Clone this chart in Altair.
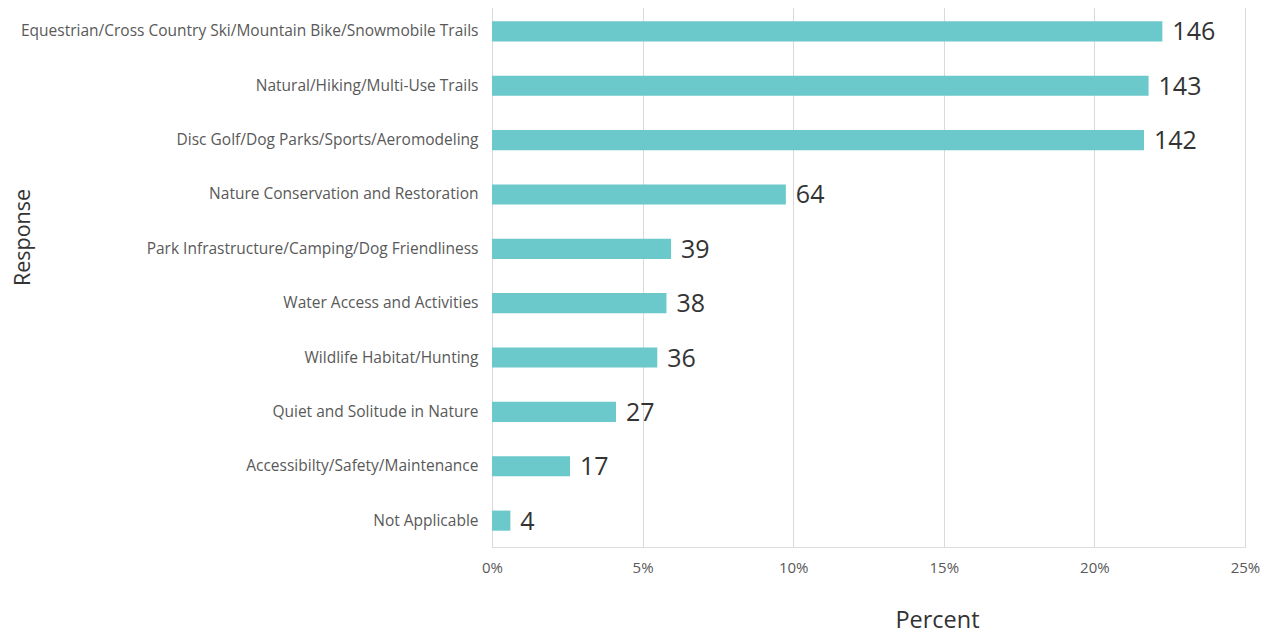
import altair as alt
import pandas as pd

categories = [
    "Equestrian/Cross Country Ski/Mountain Bike/Snowmobile Trails",
    "Natural/Hiking/Multi-Use Trails",
    "Disc Golf/Dog Parks/Sports/Aeromodeling",
    "Nature Conservation and Restoration",
    "Park Infrastructure/Camping/Dog  Friendliness",
    "Water Access and Activities",
    "Wildlife Habitat/Hunting",
    "Quiet and Solitude in Nature",
    "Accessibilty/Safety/Maintenance",
    "Not Applicable",
]
counts = [146, 143, 142, 64, 39, 38, 36, 27, 17, 4]
x_ticks = [0, 0.05, 0.10, 0.15, 0.20, 0.25]

total = sum(counts)
df = pd.DataFrame({
    "Response": categories,
    "Count": counts,
    "Percent": [c / total for c in counts],
})

FONT = "Open Sans"

y_enc = alt.Y(
    "Response:N",
    sort=categories,
    scale=alt.Scale(paddingInner=0.63, paddingOuter=0.3),
    axis=alt.Axis(
        title="Response",
        titleFont=FONT,
        titleFontSize=21.5,
        titleFontWeight="normal",
        titleColor="#333333",
        titleX=-469,
        titleY=232,
        titleAngle=270,
        titleAlign="center",
        titleBaseline="middle",
        labelFont=FONT,
        labelFontSize=15.5,
        labelColor="#595959",
        labelPadding=14,
        labelLimit=600,
        ticks=False,
        domain=False,
        grid=False,
    ),
)

x_enc = alt.X(
    "Percent:Q",
    scale=alt.Scale(domain=[0, 0.25], nice=False),
    axis=alt.Axis(
        values=x_ticks,
        format=".0%",
        title="Percent",
        titleFont=FONT,
        titleFontSize=23.5,
        titleFontWeight="normal",
        titleColor="#333333",
        titleX=445,
        titleY=80,
        titleAlign="center",
        titleBaseline="alphabetic",
        labelFont=FONT,
        labelFontSize=15,
        labelColor="#595959",
        labelPadding=13,
        labelFlush=False,
        ticks=False,
        domain=False,
        grid=True,
        gridColor="#d9d9d9",
        gridWidth=1,
    ),
)

bars = alt.Chart(df).mark_bar(color="#6BC8CB").encode(x=x_enc, y=y_enc)

labels = alt.Chart(df).mark_text(
    align="left", baseline="middle", dx=10, dy=1, font=FONT, fontSize=25, color="#333333"
).encode(
    x=alt.X("Percent:Q"),
    y=alt.Y("Response:N", sort=categories),
    text="Count:Q",
)

chart = (
    alt.layer(bars, labels)
    .properties(
        width=753,
        height=542,
        autosize=alt.AutoSizeParams(type="none"),
        padding={"left": 484, "top": -3, "right": 15, "bottom": 88},
    )
    .configure_view(strokeWidth=0, stroke="transparent")
    .configure(background="white")
)

chart.save("out.html", embed_options={"renderer": "svg", "actions": False})
